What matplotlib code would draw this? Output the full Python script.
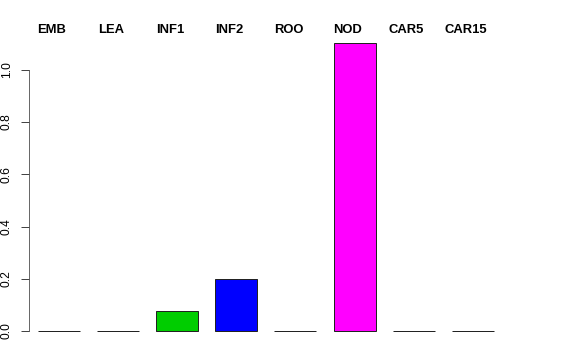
import matplotlib
matplotlib.use('Agg')
import matplotlib.pyplot as plt

plt.rcParams['font.family'] = ['Liberation Sans', 'DejaVu Sans']

# tissue labels and values
tissues = ['EMB', 'LEA', 'INF1', 'INF2', 'ROO', 'NOD', 'CAR5', 'CAR15']
values = [0.0, 0.0, 0.077, 0.2, 0.0, 1.103, 0.0, 0.0]
colors = ['red', 'orange', '#00CD00', '#0000FF', 'cyan', '#FF00FF', 'brown', 'gray']

W, H = 576, 360
fig = plt.figure(figsize=(W / 72, H / 72), dpi=72)
# axes placed so y=0 sits at pixel 331 and the tallest bar top at 43
ax = fig.add_axes([29 / W, (H - 331) / H, (500 - 29) / W, (331 - 43) / H])

x = list(range(len(tissues)))
ax.bar(x, values, width=0.71, color=colors, edgecolor='#222222', linewidth=1, clip_on=False)
ax.set_xlim(-0.508, 7.46)
ax.set_ylim(0, 1.103)

for s in ['top', 'right', 'bottom']:
    ax.spines[s].set_visible(False)
ax.spines['left'].set_bounds(0, 1)
ax.spines['left'].set_color('#444444')
ax.set_xticks([])
ax.set_yticks([0, 0.2, 0.4, 0.6, 0.8, 1.0])
ax.set_yticklabels(['0.0', '0.2', '0.4', '0.6', '0.8', '1.0'], rotation=90, va='center', fontsize=12)
ax.tick_params(axis='y', length=8, width=1, color='#444444', pad=8)

# names sit slightly left of bar centres
for xi, name in zip(x, tissues):
    ax.text(xi - 0.12, 1.153, name, ha='center', va='center', fontsize=13, fontweight='bold', clip_on=False)

fig.savefig('out.png', dpi=72)
